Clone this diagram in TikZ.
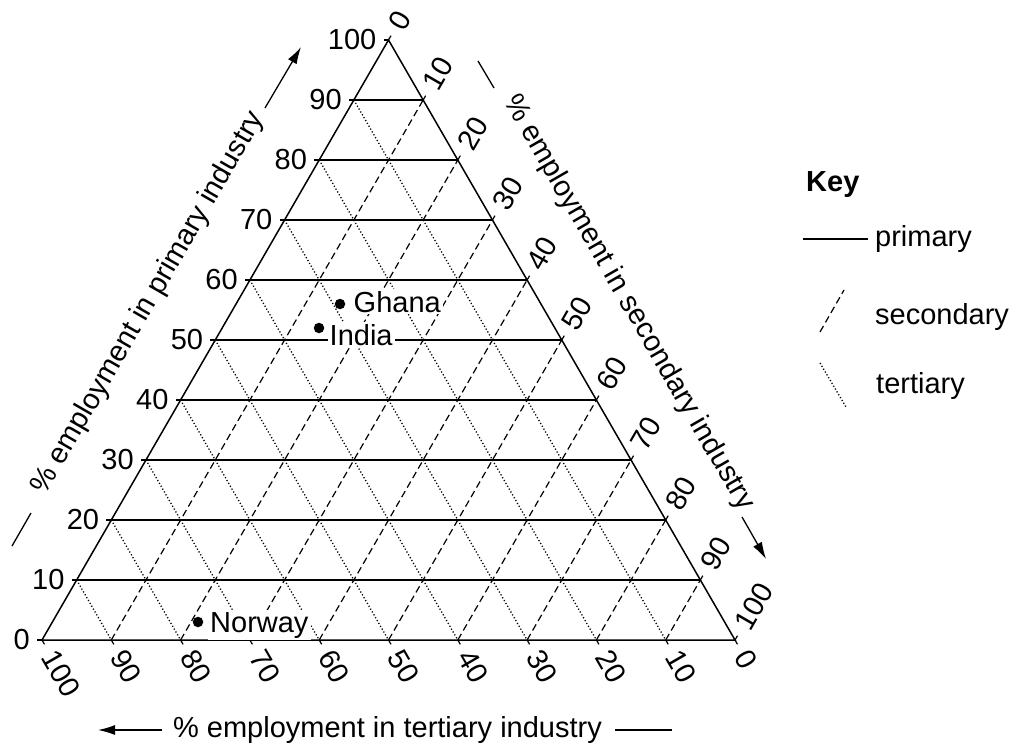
\documentclass[tikz,border=0pt]{standalone}
\usepackage{fontspec}
\setmainfont{Liberation Sans}
\usetikzlibrary{arrows.meta,calc}
\begin{document}
\begin{tikzpicture}[x=1pt,y=-1pt,
  every node/.style={font=\fontsize{29}{33}\selectfont, inner sep=0pt},
  edgeline/.style={line width=1.5pt, line join=miter},
  tickline/.style={line width=1.2pt},
  primline/.style={line width=1.2pt},
  secline/.style={line width=1.2pt, dash pattern=on 7pt off 4pt},
  terline/.style={line width=1.3pt, dash pattern=on 1.2pt off 2.1pt},
  arrline/.style={line width=1.3pt,-{Latex[length=17pt,width=10pt]}},
  plainline/.style={line width=1.3pt},
  ptlabel/.style={fill=white, inner sep=2pt, anchor=base west},
  keytext/.style={anchor=base west},
  ptdot/.style={circle, fill=black, minimum size=10.5pt, inner sep=0pt}
]
\useasboundingbox (0,0) rectangle (1014,743);
\coordinate (A) at (42,640);
\coordinate (B) at (735,640);
\coordinate (C) at (388.5,40);

% grid lines
\foreach \k in {1,...,9} {
  \draw[primline] (42+34.65*\k, 640-60*\k) -- (735-34.65*\k, 640-60*\k);
  \draw[secline] (42+69.3*\k, 640) -- (388.5+34.65*\k, 40+60*\k);
  \draw[terline] (42+34.65*10-34.65*\k, 640-600+60*\k) -- (735-69.3*\k, 640);
}

% triangle
\draw[edgeline] (A) -- (B) -- (C) -- cycle;

% ticks and labels
\foreach \k in {0,...,10} {
  \pgfmathtruncatemacro\lab{10*\k}
  % primary (left)
  \coordinate (L\k) at (42+34.65*\k, 640-60*\k);
  \draw[tickline] (L\k) -- ++(-5,0);
  \node[anchor=east] (pl\k) at ($(L\k)+(-12,0)$) {\lab};
  % secondary (right)
  \coordinate (S\k) at (388.5+34.65*\k, 40+60*\k);
  \draw[tickline] (S\k) -- ++(2.5,-4.33);
  \node[anchor=west, rotate=60] (sl\k) at ($(S\k)+(7,-12.12)$) {\lab};
  % tertiary (bottom)
  \coordinate (T\k) at (735-69.3*\k, 640);
  \draw[tickline] (T\k) -- ++(2.5,4.33);
  \node[anchor=west, rotate=-60] (tl\k) at ($(T\k)+(7,12.12)$) {\lab};
}

% axis titles
\node[rotate=60] (ptitle) at (148.5,303) {\% employment in primary industry};
\node[rotate=-60] (stitle) at (628.5,303) {\% employment in secondary industry};
\node[anchor=base] (ttitle) at (387.5,737) {\% employment in tertiary industry};

% axis arrows
\coordinate (pa1) at (12,546); \coordinate (pa2) at (31,513);
\draw[plainline] (pa1) -- (pa2);
\coordinate (pb1) at (265,108); \coordinate (pb2) at (301,47);
\draw[arrline] (pb1) -- (pb2);
\coordinate (sa1) at (478,61); \coordinate (sa2) at (494,88);
\draw[plainline] (sa1) -- (sa2);
\coordinate (sb1) at (742,517); \coordinate (sb2) at (766,559);
\draw[arrline] (sb1) -- (sb2);
\coordinate (ta1) at (162,730); \coordinate (ta2) at (98,730);
\draw[arrline] (ta1) -- (ta2);
\coordinate (tb1) at (615,730); \coordinate (tb2) at (672,730);
\draw[plainline] (tb1) -- (tb2);

% data points
\node[ptdot] (ghanadot) at (340,304) {};
\node[ptlabel] (ghana) at (351.5,312) {Ghana};
\node[ptdot] (indiadot) at (319,328) {};
\node[ptlabel] (india) at (327.5,345) {India};
\node[ptdot] (norwaydot) at (198,622) {};
\node[ptlabel] (norway) at (208,632) {Norway};

% key
\node[keytext, font=\fontsize{29}{33}\selectfont\bfseries] (keyt) at (806,192) {Key};
\coordinate (k1a) at (803,239); \coordinate (k1b) at (868,239);
\draw[primline] (k1a) -- (k1b);
\node[keytext] (kprim) at (875,247) {primary};
\coordinate (k2a) at (820,332); \coordinate (k2b) at (844,290);
\draw[secline] (k2a) -- (k2b);
\node[keytext] (ksec) at (875,324) {secondary};
\coordinate (k3a) at (820,363); \coordinate (k3b) at (846,407);
\draw[terline] (k3a) -- (k3b);
\node[keytext] (kter) at (876,393) {tertiary};
\end{tikzpicture}
\end{document}
